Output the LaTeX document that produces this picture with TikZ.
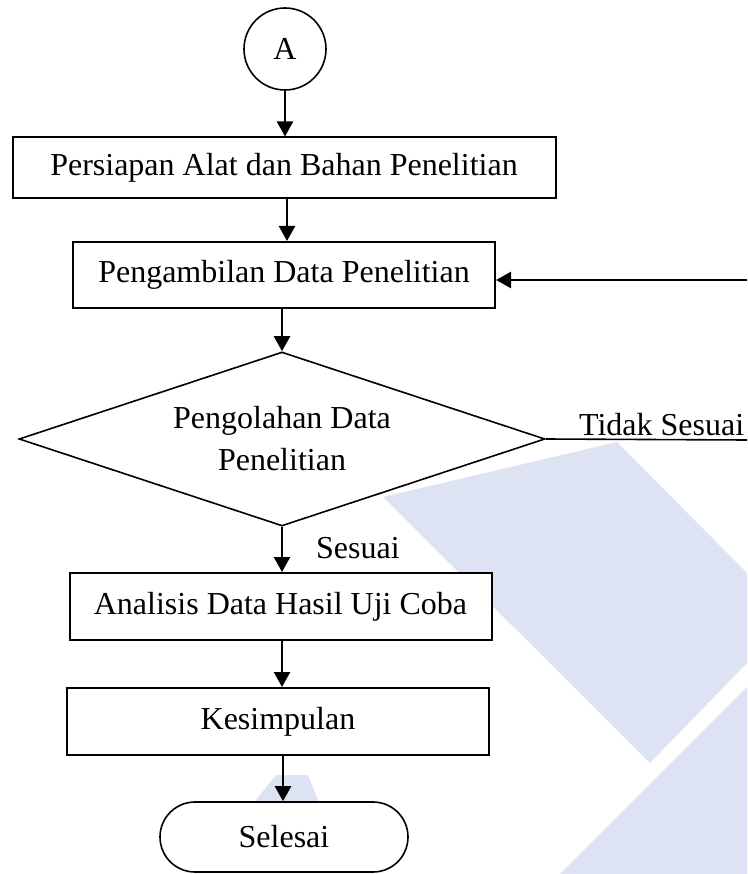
\documentclass[tikz,border=0pt]{standalone}
\usepackage{fontspec}
\setmainfont{Liberation Serif}
\usetikzlibrary{shapes.geometric,arrows.meta}
\definecolor{watermark}{RGB}{221,227,242}

\begin{document}
\begin{tikzpicture}[x=1pt, y=-1pt,
  font=\fontsize{32}{42}\selectfont,
  kotak/.style={draw, line width=2pt, fill=white, inner sep=0pt, minimum width=422pt, minimum height=66pt},
  panah/.style={line width=2.4pt, -{Triangle[width=16pt,length=15pt]}},
  garis/.style={line width=1.6pt}]

\useasboundingbox (0,0) rectangle (747,874);
% background watermark
\fill[watermark] (383,497) -- (617,442) -- (747,573) -- (747,663) -- (650,763) -- cycle;
\fill[watermark] (747,687) -- (560,874) -- (747,874) -- cycle;
\fill[watermark] (252,805) -- (276,775) -- (308,775) -- (320,805) -- cycle;

\node[draw, circle, garis, fill=white, minimum size=82pt, inner sep=0pt] (mulai) at (285,49) {A};
\node[kotak, minimum width=543pt, minimum height=61pt] (persiapan) at (284,168) {Persiapan Alat dan Bahan Penelitian};
\node[kotak] (ambil) at (284,275) {Pengambilan Data Penelitian};
\node[draw, diamond, garis, fill=white, aspect=3, minimum width=526pt, minimum height=174pt, inner sep=0pt, align=center] (olah) at (282,439) {Pengolahan Data\\Penelitian};
\node[kotak, minimum height=67pt] (analisis) at (280.5,606.5) {Analisis Data Hasil Uji Coba};
\node[kotak, minimum height=67pt] (simpul) at (278,721.5) {Kesimpulan};
\node[draw, garis, fill=white, rounded corners=35pt, minimum width=248pt, minimum height=70pt] (selesai) at (284,837) {Selesai};

\coordinate (tepi1) at (747,440);
\coordinate (tepi2) at (747,280);

\draw[panah] (mulai.south) -- (mulai.south |- persiapan.north);
\draw[panah] (287,198.5) -- (ambil.north -| 287,0);
\draw[panah] (olah.north |- ambil.south) -- (olah.north);
\draw[panah] (olah.south) -- (olah.south |- analisis.north) node[pos=0.5, anchor=base west, inner sep=0pt, xshift=33pt, yshift=-9pt] {Sesuai};
\draw[panah] (282,640) -- (simpul.north -| 282,0);
\draw[panah] (283,755) -- (selesai.north -| 283,0);
\draw[garis] (olah.east) -- (tepi1) node[pos=1, anchor=base east, inner sep=0pt, xshift=-2pt, yshift=5pt] {Tidak Sesuai};
\draw[panah] (tepi2) -- (ambil.east |- tepi2);

\end{tikzpicture}
\end{document}
